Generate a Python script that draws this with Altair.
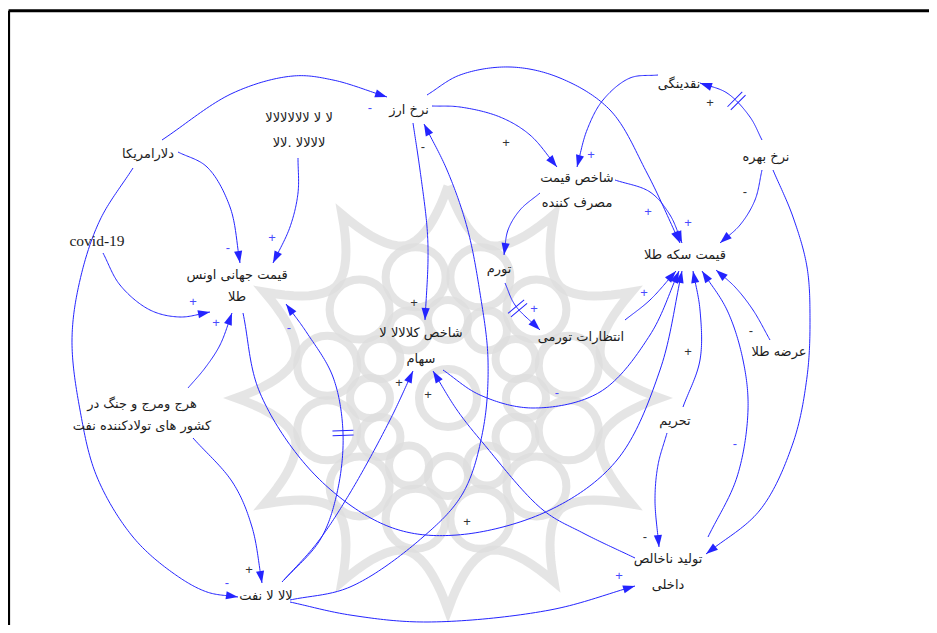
import math
import numpy as np
import pandas as pd
import altair as alt

# ---------------- data: variables of the causal loop diagram ----------------
node_lines = [
    ["نرخ ارز"],
    ["دلارامریکا"],
    ["ﻻ ﻻ ﻻﻻﻻﻻﻻﻻ", "ﻻﻻﻻﻻ .ﻻﻻ"],
    ["قیمت جهانی اونس", "طلا"],
    ["شاخص قیمت", "مصرف کننده"],
    ["نقدینگی"],
    ["نرخ بهره"],
    ["قیمت سکه طلا"],
    ["تورم"],
    ["انتظارات تورمی"],
    ["شاخص کلاﻻﻻ ﻻ", "سهام"],
    ["عرضه طلا"],
    ["تحریم"],
    ["هرج ومرج و جنگ در", "کشور  های تولادکننده نفت"],
    ["ﻻﻻ ﻻ نفت"],
    ["تولید ناخالص", "داخلی"],
]
latin_label = "covid-19"

# layout of the variables (centre of each text block, line gap)
node_x = [409, 148, 299, 237, 577, 679, 766, 685, 499, 581, 421, 779, 675, 142, 266, 668]
node_y = [110, 154, 130.5, 286, 190.5, 84, 157, 255, 269, 337, 346, 352, 421, 415, 596, 572]
line_gap = [0, 0, 25, 22, 25, 0, 0, 0, 0, 0, 26, 0, 0, 22, 0, 26]
latin_xy = (97, 241)

# causal links: polarity, sign position, sign colour kind, delay
link_polarity = ["-", "-", "+", "+", "-", "+", "+", "-", "+", "-", "+", "+", "+", "+",
                 "+", "+", "-", "", "+", "", "+", "+", "-", "+", "+", "-", "-", "-", "+"]
link_sign_blue = [1, 1, 1, 1, 1, 1, 0, 1, 0, 0, 1, 0, 1, 0,
                  1, 0, 0, 0, 1, 0, 1, 1, 1, 0, 0, 0, 1, 0, 0]
link_sign_xy = [(370, 108), (228, 248), (272, 238), (193, 302), (227, 583), (216, 323),
                (249, 570), (289, 328), (399, 383), (423, 147), (619, 576), (414, 303),
                (688, 223), (506, 143), (591, 155), (710, 103), (745, 192), (0, 0),
                (648, 212), (0, 0), (534, 309), (644, 293), (557, 393), (467, 522),
                (688, 352), (645, 537), (735, 444), (751, 331), (428, 395)]
link_delay_xy = {7: (343, 433), 15: (736, 102), 20: (518, 308)}

# routes of the links (start ... arrow tip), diagram layout
link_routes = [
    [(162, 140), (233, 93), (293, 76), (333, 80), (387, 97)],
    [(178, 152), (207, 167), (230, 207), (240, 263)],
    [(298, 158), (298, 193), (290, 227), (273, 263)],
    [(103, 253), (120, 285), (150, 310), (180, 317), (210, 312)],
    [(133, 168), (100, 220), (80, 280), (72, 340), (80, 410), (97, 477), (133, 537),
     (173, 573), (207, 592), (238, 597)],
    [(188, 388), (205, 368), (220, 345), (232, 313)],
    [(193, 438), (233, 483), (252, 527), (262, 583)],
    [(282, 582), (320, 540), (337, 493), (343, 433), (333, 377), (307, 333), (286, 304)],
    [(284, 580), (317, 543), (350, 493), (390, 420), (413, 371)],
    [(290, 600), (350, 587), (423, 537), (463, 493), (483, 430), (488, 360), (480, 293),
     (467, 227), (447, 170), (424, 124)],
    [(290, 602), (350, 615), (427, 622), (550, 610), (635, 586)],
    [(413, 123), (420, 170), (427, 227), (428, 260), (425, 320)],
    [(427, 95), (460, 75), (510, 67), (560, 78), (610, 110), (647, 173), (680, 243)],
    [(432, 106), (460, 107), (500, 117), (530, 135), (557, 167)],
    [(658, 75), (630, 78), (603, 100), (587, 130), (577, 167)],
    [(762, 140), (750, 117), (727, 93), (700, 83)],
    [(762, 170), (755, 200), (740, 225), (720, 243)],
    [(773, 170), (793, 217), (807, 267), (810, 320), (807, 377), (793, 443), (760, 510),
     (706, 554)],
    [(615, 180), (650, 192), (670, 215), (682, 243)],
    [(540, 193), (520, 210), (508, 230), (504, 255)],
    [(505, 283), (515, 305), (540, 330)],
    [(625, 320), (650, 300), (676, 271)],
    [(443, 370), (480, 395), (533, 408), (600, 392), (650, 335), (679, 271)],
    [(243, 313), (260, 393), (317, 477), (390, 527), (457, 535), (550, 510), (617, 460),
     (660, 370), (682, 271)],
    [(683, 407), (700, 360), (700, 310), (693, 271)],
    [(667, 433), (658, 465), (655, 500), (659, 547)],
    [(708, 537), (737, 477), (748, 410), (743, 360), (727, 310), (702, 271)],
    [(770, 340), (753, 310), (735, 287), (716, 270)],
    [(635, 558), (583, 533), (543, 510), (483, 443), (457, 410), (433, 371)],
]

LINK_COLOR = "#2424ff"
SIGN_BLUE = "#4a4aff"
SIGN_DARK = "#333333"
TEXT_COLOR = "#1c1c1c"


def catmull(points, n=24, alpha=0.5):
    P = [np.array(p, float) for p in points]
    ext = [2 * P[0] - P[1]] + P + [2 * P[-1] - P[-2]]
    out = []
    for i in range(1, len(ext) - 2):
        p0, p1, p2, p3 = ext[i - 1], ext[i], ext[i + 1], ext[i + 2]

        def tj(ti, a, b):
            return ti + max(np.linalg.norm(b - a), 1e-6) ** alpha

        t0 = 0.0
        t1 = tj(t0, p0, p1)
        t2 = tj(t1, p1, p2)
        t3 = tj(t2, p2, p3)
        last = i == len(ext) - 3
        for t in np.linspace(t1, t2, n, endpoint=last):
            A1 = (t1 - t) / (t1 - t0) * p0 + (t - t0) / (t1 - t0) * p1
            A2 = (t2 - t) / (t2 - t1) * p1 + (t - t1) / (t2 - t1) * p2
            A3 = (t3 - t) / (t3 - t2) * p2 + (t - t2) / (t3 - t2) * p3
            B1 = (t2 - t) / (t2 - t0) * A1 + (t - t0) / (t2 - t0) * A2
            B2 = (t3 - t) / (t3 - t1) * A2 + (t - t1) / (t3 - t1) * A3
            C = (t2 - t) / (t2 - t1) * B1 + (t - t1) / (t2 - t1) * B2
            out.append(C)
    return np.array(out)


def heading(d):
    return (math.degrees(math.atan2(d[0], -d[1])) + 360) % 360


line_rows, arrow_rows, delay_rows = [], [], []
for k, route in enumerate(link_routes):
    pts = catmull(route)
    for j, p in enumerate(pts):
        line_rows.append({"edge": k, "ord": j, "x": p[0], "y": p[1]})
    d = pts[-1] - pts[-4]
    arrow_rows.append({"x": pts[-1][0], "y": pts[-1][1], "ang": heading(d)})
    if k in link_delay_xy:
        q = np.array(link_delay_xy[k], float)
        idx = int(np.argmin(np.linalg.norm(pts - q, axis=1)))
        a, b = max(idx - 2, 0), min(idx + 2, len(pts) - 1)
        delay_rows.append({"x": pts[idx][0], "y": pts[idx][1], "ang": heading(pts[b] - pts[a])})

lines_df = pd.DataFrame(line_rows)
arrows_df = pd.DataFrame(arrow_rows)
delays_df = pd.DataFrame(delay_rows)

sign_df = pd.DataFrame([
    {"x": xy[0], "y": xy[1], "t": s, "c": SIGN_BLUE if b else SIGN_DARK}
    for s, b, xy in zip(link_polarity, link_sign_blue, link_sign_xy) if s
])

label_rows = []
for lines, x, y, g in zip(node_lines, node_x, node_y, line_gap):
    n = len(lines)
    for i, t in enumerate(lines):
        label_rows.append({"x": x, "y": y + (i - (n - 1) / 2) * g, "t": t})
labels_df = pd.DataFrame(label_rows)
latin_df = pd.DataFrame([{"x": latin_xy[0], "y": latin_xy[1], "t": latin_label}])

# ---------------- watermark (decorative ornament) ----------------
wm_c = (448, 398)
wm_rows = []
verts = []
for k in range(24):
    ang = math.radians(k * 15)
    r = 212 if k % 2 == 0 else 158
    verts.append((wm_c[0] + r * math.sin(ang), wm_c[1] - r * math.cos(ang)))
ordn = 0
for k in range(24):
    a = np.array(verts[k])
    b = np.array(verts[(k + 1) % 24])
    mid = (a + b) / 2
    cvec = np.array(wm_c) - mid
    ctrl = mid + 0.12 * cvec
    for t in np.linspace(0, 1, 10, endpoint=False):
        p = (1 - t) ** 2 * a + 2 * (1 - t) * t * ctrl + t ** 2 * b
        wm_rows.append({"ord": ordn, "x": p[0], "y": p[1]})
        ordn += 1
wm_rows.append({"ord": ordn, "x": verts[0][0], "y": verts[0][1]})
wm_star = pd.DataFrame(wm_rows)
circ_rows = []
for k in range(12):
    a1 = math.radians(k * 30 + 15)
    circ_rows.append({"x": wm_c[0] + 125 * math.sin(a1), "y": wm_c[1] - 125 * math.cos(a1), "s": 60 ** 2})
    a2 = math.radians(k * 30)
    circ_rows.append({"x": wm_c[0] + 78 * math.sin(a2), "y": wm_c[1] - 78 * math.cos(a2), "s": 40 ** 2})
circ_rows.append({"x": wm_c[0], "y": wm_c[1], "s": 58 ** 2})
wm_circ = pd.DataFrame(circ_rows)

# ---------------- chart ----------------
XS = alt.Scale(domain=[8, 929], nice=False, zero=False)
YS = alt.Scale(domain=[8, 625], reverse=True, nice=False, zero=False)


def X(f="x"):
    return alt.X(f"{f}:Q", scale=XS, axis=None)


def Y(f="y"):
    return alt.Y(f"{f}:Q", scale=YS, axis=None)


WM = "#dedede"
star = alt.Chart(wm_star).mark_line(color=WM, strokeWidth=9, opacity=0.8).encode(
    x=X(), y=Y(), order="ord:Q")
circles = alt.Chart(wm_circ).mark_point(shape="circle", filled=False, color=WM,
                                        strokeWidth=8, opacity=0.8).encode(
    x=X(), y=Y(), size=alt.Size("s:Q", scale=None))

frame_df = pd.DataFrame([
    {"x": 8.6, "y": 10.7, "x2": 8.6, "y2": 640},
    {"x": 8.6, "y": 10.7, "x2": 940, "y2": 10.7},
])
frame = alt.Chart(frame_df).mark_rule(color="black", strokeWidth=3).encode(
    x=X(), y=Y(), x2="x2:Q", y2="y2:Q")

links = alt.Chart(lines_df).mark_line(color=LINK_COLOR, strokeWidth=1).encode(
    x=X(), y=Y(), detail="edge:N", order="ord:Q")
arrows = alt.Chart(arrows_df).mark_point(
    shape="M0,0L-0.34,1L0.34,1Z", filled=True, color=LINK_COLOR, size=576, opacity=1,
    strokeWidth=0).encode(x=X(), y=Y(), angle=alt.Angle("ang:Q", scale=None))
delays = alt.Chart(delays_df).mark_point(
    shape="M-1,-0.22L1,-0.22M-1,0.22L1,0.22", filled=False, color=LINK_COLOR, size=440,
    opacity=1, strokeWidth=1).encode(x=X(), y=Y(), angle=alt.Angle("ang:Q", scale=None))
signs = alt.Chart(sign_df).mark_text(font="Liberation Sans", fontSize=13, align="center",
                                     baseline="middle").encode(
    x=X(), y=Y(), text="t:N", color=alt.Color("c:N", scale=None))
labels = alt.Chart(labels_df).mark_text(font="DejaVu Sans", fontSize=13, align="center",
                                        baseline="middle", color=TEXT_COLOR).encode(
    x=X(), y=Y(), text="t:N")
latin = alt.Chart(latin_df).mark_text(font="Liberation Serif", fontSize=15.5, align="center",
                                      baseline="middle", color=TEXT_COLOR).encode(
    x=X(), y=Y(), text="t:N")

chart = alt.layer(star, circles, frame, links, arrows, delays, signs, labels, latin).properties(
    width=921, height=617, padding=0, autosize=alt.AutoSizeParams(type="none"),
    background="white",
).configure_view(strokeWidth=0)

chart.save("out.html", embed_options={"renderer": "svg", "actions": False})
